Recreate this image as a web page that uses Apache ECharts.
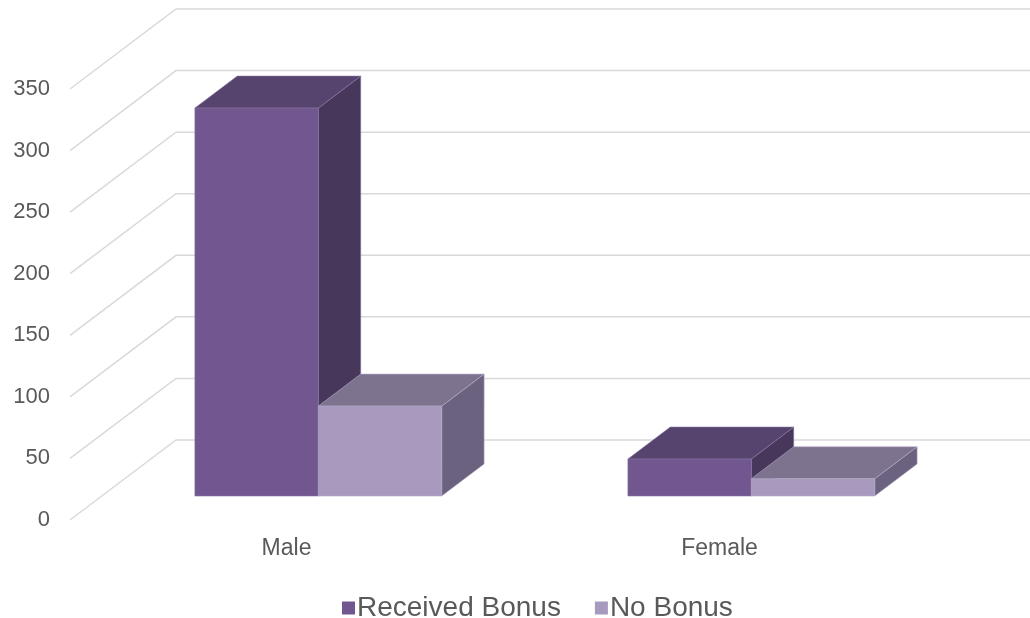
<!DOCTYPE html>
<html>
<head>
<meta charset="utf-8">
<script src="https://cdn.jsdelivr.net/npm/echarts@6/dist/echarts.min.js"></script>
<style>
  html, body { margin: 0; padding: 0; background: #fff; }
  #chart { width: 1030px; height: 618px; }
</style>
</head>
<body>
<div id="chart"></div>
<script>
// chart values
const categories = ['Male', 'Female'];
const receivedBonus = [315, 30];
const noBonus = [73, 14];
const yTicks = [0, 50, 100, 150, 200, 250, 300, 350];

// fake 3d: floor depth in pixels, bars sit from 30% to 70% of it
const DEPTH_X = 106;
const DEPTH_Y = 80;
const BAR_START = 0.3;
const BAR_DEPTH = 0.4;

const chart = echarts.init(document.getElementById('chart'));

function barRenderer(slot, colors) {
  return function (params, api) {
    const c = api.value(0);
    const v = api.value(1);
    const band = api.size([1, 0])[0];
    const w = band * 0.285;
    const base = api.coord([c, 0]);
    const yTop0 = api.coord([c, v])[1];
    const ox = DEPTH_X * BAR_START, oy = DEPTH_Y * BAR_START;
    const dx = DEPTH_X * BAR_DEPTH, dy = DEPTH_Y * BAR_DEPTH;
    const left = base[0] - w + slot * w + ox;
    const right = left + w;
    const yt = yTop0 - oy;
    const yb = base[1] - oy;
    return {
      type: 'group',
      children: [
        {
          type: 'polygon',
          shape: { points: [[right, yt], [right + dx, yt - dy], [right + dx, yb - dy], [right, yb]] },
          style: { fill: colors.side, stroke: colors.edge, lineWidth: 0.6 }
        },
        {
          type: 'polygon',
          shape: { points: [[left, yt], [left + dx, yt - dy], [right + dx, yt - dy], [right, yt]] },
          style: { fill: colors.top, stroke: colors.edge, lineWidth: 0.6 }
        },
        {
          type: 'rect',
          shape: { x: left, y: yt, width: w, height: yb - yt },
          style: { fill: colors.front, stroke: colors.edge, lineWidth: 0.6 }
        }
      ]
    };
  };
}

const gridRender = function (params, api) {
  const y = api.coord([0, api.value(1)])[1];
  const x0 = params.coordSys.x;
  const x1 = params.coordSys.x + params.coordSys.width;
  return {
    type: 'polyline',
    shape: { points: [[x0, y], [x0 + DEPTH_X, y - DEPTH_Y], [x1 + DEPTH_X, y - DEPTH_Y]] },
    style: { stroke: '#d9d9d9', lineWidth: 1.5, fill: null }
  };
};

const option = {
  animation: false,
  textStyle: { fontFamily: 'Liberation Sans, Arial, sans-serif' },
  grid: { left: 70, right: 94, top: 89, bottom: 98 },
  legend: {
    data: ['Received Bonus', 'No Bonus'],
    left: 337,
    top: 589,
    icon: 'rect',
    itemWidth: 13,
    itemHeight: 13,
    itemGap: 34,
    textStyle: { fontSize: 28, color: '#595959', padding: [0, 0, 0, -3] }
  },
  xAxis: {
    type: 'category',
    data: categories,
    axisLine: { show: false },
    axisTick: { show: false },
    axisLabel: { fontSize: 23, color: '#595959', margin: 17 }
  },
  yAxis: {
    type: 'value',
    min: 0,
    max: 350,
    interval: 50,
    splitLine: { show: false },
    axisLine: { show: false },
    axisTick: { show: false },
    axisLabel: { fontSize: 22, color: '#595959', margin: 20 }
  },
  series: [
    {
      type: 'custom',
      silent: true,
      clip: false,
      z: 1,
      renderItem: gridRender,
      data: yTicks.map(t => [0, t])
    },
    {
      name: 'Received Bonus',
      type: 'custom',
      clip: false,
      z: 2,
      itemStyle: { color: '#715690' },
      renderItem: barRenderer(0, { front: '#715690', top: '#57446e', side: '#47385b', edge: '#8575a0' }),
      data: categories.map((c, i) => [i, receivedBonus[i]])
    },
    {
      name: 'No Bonus',
      type: 'custom',
      clip: false,
      z: 3,
      itemStyle: { color: '#a899bf' },
      renderItem: barRenderer(1, { front: '#a899bf', top: '#7e738e', side: '#6b6280', edge: '#b3a7c6' }),
      data: categories.map((c, i) => [i, noBonus[i]])
    }
  ]
};

chart.setOption(option);
</script>
</body>
</html>
